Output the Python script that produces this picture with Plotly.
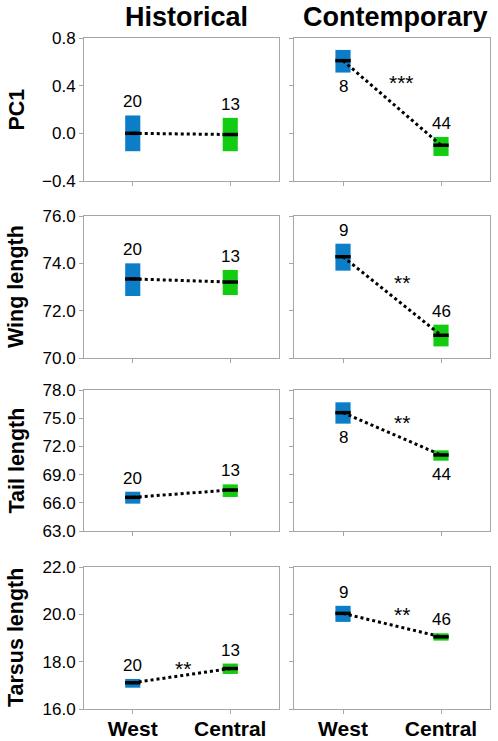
import plotly.graph_objects as go

# ---- data ----
periods = ["Historical", "Contemporary"]
regions = ["West", "Central"]
traits = ["PC1", "Wing length", "Tail length", "Tarsus length"]

y_ranges = [[-0.4, 0.8], [70.0, 76.0], [63.0, 78.0], [16.0, 22.0]]
y_dticks = [0.4, 2.0, 3.0, 2.0]

# [trait][period] -> [West, Central]
means = [
    [[0.00, -0.01], [0.61, -0.10]],
    [[73.34, 73.21], [74.28, 70.96]],
    [[66.58, 67.36], [75.59, 71.09]],
    [[17.11, 17.71], [20.04, 19.05]],
]
lows = [
    [[-0.15, -0.15], [0.51, -0.19]],
    [[72.62, 72.66], [73.69, 70.49]],
    [[65.91, 66.62], [74.42, 70.48]],
    [[16.90, 17.48], [19.68, 18.89]],
]
highs = [
    [[0.15, 0.13], [0.70, -0.03]],
    [[74.00, 73.72], [74.83, 71.41]],
    [[67.18, 67.96], [76.69, 71.58]],
    [[17.27, 17.92], [20.36, 19.20]],
]
sample_n = [
    [[20, 13], [8, 44]],
    [[20, 13], [9, 46]],
    [[20, 13], [8, 44]],
    [[20, 13], [9, 46]],
]
# where the sample size is written: "above" or "below" the box
n_side = [
    [["above", "above"], ["below", "above"]],
    [["above", "above"], ["above", "above"]],
    [["above", "above"], ["below", "below"]],
    [["above", "above"], ["above", "above"]],
]
# significance marks: (trait, period, text, x, y)
sig_marks = [
    (0, 1, "***", 2.2, 0.45),
    (1, 1, "**", 2.2, 73.32),
    (2, 1, "**", 2.2, 74.88),
    (3, 0, "**", 2.03, 17.82),
    (3, 1, "**", 2.2, 20.12),
]

# ---- style ----
FONT = "Liberation Sans, Arial, sans-serif"
region_colors = ["rgb(12,126,200)", "rgb(18,204,18)"]
frame_color = "#a6a6a6"
x_pos = [1, 3]
box_w = 0.31

W, H = 498, 741


def px_x(p):
    return p / W


def px_y(p):
    return 1 - p / H


x_domains = [[px_x(84), px_x(279)], [px_x(294), px_x(490)]]
y_px = [(38, 181), (216, 358), (390, 531), (567, 709)]
y_domains = [[px_y(b), px_y(t)] for t, b in y_px]
title_x_px = [186, 395]

fig = go.Figure()
annotations = []

for r in range(4):
    for c in range(2):
        idx = r * 2 + c + 1
        xa = "x" if idx == 1 else f"x{idx}"
        ya = "y" if idx == 1 else f"y{idx}"
        # boxes
        for g in range(2):
            fig.add_trace(go.Bar(
                x=[x_pos[g]], y=[highs[r][c][g] - lows[r][c][g]], base=[lows[r][c][g]],
                width=box_w, marker=dict(color=region_colors[g], line=dict(width=0)),
                xaxis=xa, yaxis=ya, showlegend=False, hoverinfo="skip"))
        # dotted connecting line
        fig.add_trace(go.Scatter(
            x=x_pos, y=means[r][c], mode="lines",
            line=dict(color="black", width=3, dash="dot"),
            xaxis=xa, yaxis=ya, showlegend=False, hoverinfo="skip"))
        # mean bars
        fig.add_trace(go.Scatter(
            x=x_pos, y=means[r][c], mode="markers",
            marker=dict(symbol="line-ew", size=11, line=dict(color="black", width=3.5)),
            xaxis=xa, yaxis=ya, showlegend=False, hoverinfo="skip"))
        # sample sizes
        for g in range(2):
            above = n_side[r][c][g] == "above"
            annotations.append(dict(
                x=x_pos[g], y=highs[r][c][g] if above else lows[r][c][g],
                xref=xa, yref=ya, text=str(sample_n[r][c][g]), showarrow=False,
                yanchor="bottom" if above else "top", yshift=2 if above else -2,
                font=dict(family=FONT, size=17, color="black")))
        fig.update_layout({
            f"xaxis{'' if idx == 1 else idx}": dict(
                domain=x_domains[c], anchor=ya, range=[0, 4],
                tickvals=x_pos,
                ticktext=[f"<b>{g}</b>" for g in regions] if r == 3 else ["", ""],
                showticklabels=(r == 3), ticks="outside", ticklen=4, tickcolor=frame_color,
                ticklabelstandoff=-3,
                showline=True, linecolor=frame_color, linewidth=1, mirror=True,
                showgrid=False, zeroline=False, fixedrange=True, automargin=False,
                tickfont=dict(family=FONT, size=21, color="black")),
            f"yaxis{'' if idx == 1 else idx}": dict(
                domain=y_domains[r], anchor=xa, range=y_ranges[r],
                dtick=y_dticks[r], tick0=y_ranges[r][0], tickformat=".1f",
                showticklabels=(c == 0), ticks="outside", ticklen=4, tickcolor=frame_color,
                showline=True, linecolor=frame_color, linewidth=1, mirror=True,
                showgrid=False, zeroline=False, fixedrange=True, automargin=False,
                tickfont=dict(family=FONT, size=17, color="black")),
        })

for r, c, txt, sx, sy in sig_marks:
    idx = r * 2 + c + 1
    annotations.append(dict(
        x=sx, y=sy, xref="x" if idx == 1 else f"x{idx}", yref="y" if idx == 1 else f"y{idx}",
        text=txt, showarrow=False, yshift=-3,
        font=dict(family=FONT, size=21, color="black")))

# column titles
for c, p in enumerate(periods):
    annotations.append(dict(
        x=px_x(title_x_px[c]), y=px_y(17), xref="paper", yref="paper",
        text=f"<b>{p}</b>", showarrow=False, xanchor="center", yanchor="middle",
        font=dict(family=FONT, size=27, color="black")))

# row titles
for r, t in enumerate(traits):
    annotations.append(dict(
        x=px_x(16), y=sum(y_domains[r]) / 2, xref="paper", yref="paper",
        text=f"<b>{t}</b>", showarrow=False, textangle=-90,
        xanchor="center", yanchor="middle",
        font=dict(family=FONT, size=21.5, color="black")))

fig.update_layout(
    width=W, height=H, autosize=False,
    margin=dict(l=0, r=0, t=0, b=0, autoexpand=False),
    paper_bgcolor="white", plot_bgcolor="white",
    barmode="overlay", annotations=annotations,
    font=dict(family=FONT, color="black"),
)

fig.write_html(
    "out.html",
    config={"displayModeBar": False, "responsive": False},
    post_script="document.body.style.margin='0px';document.body.style.overflow='hidden';",
)
